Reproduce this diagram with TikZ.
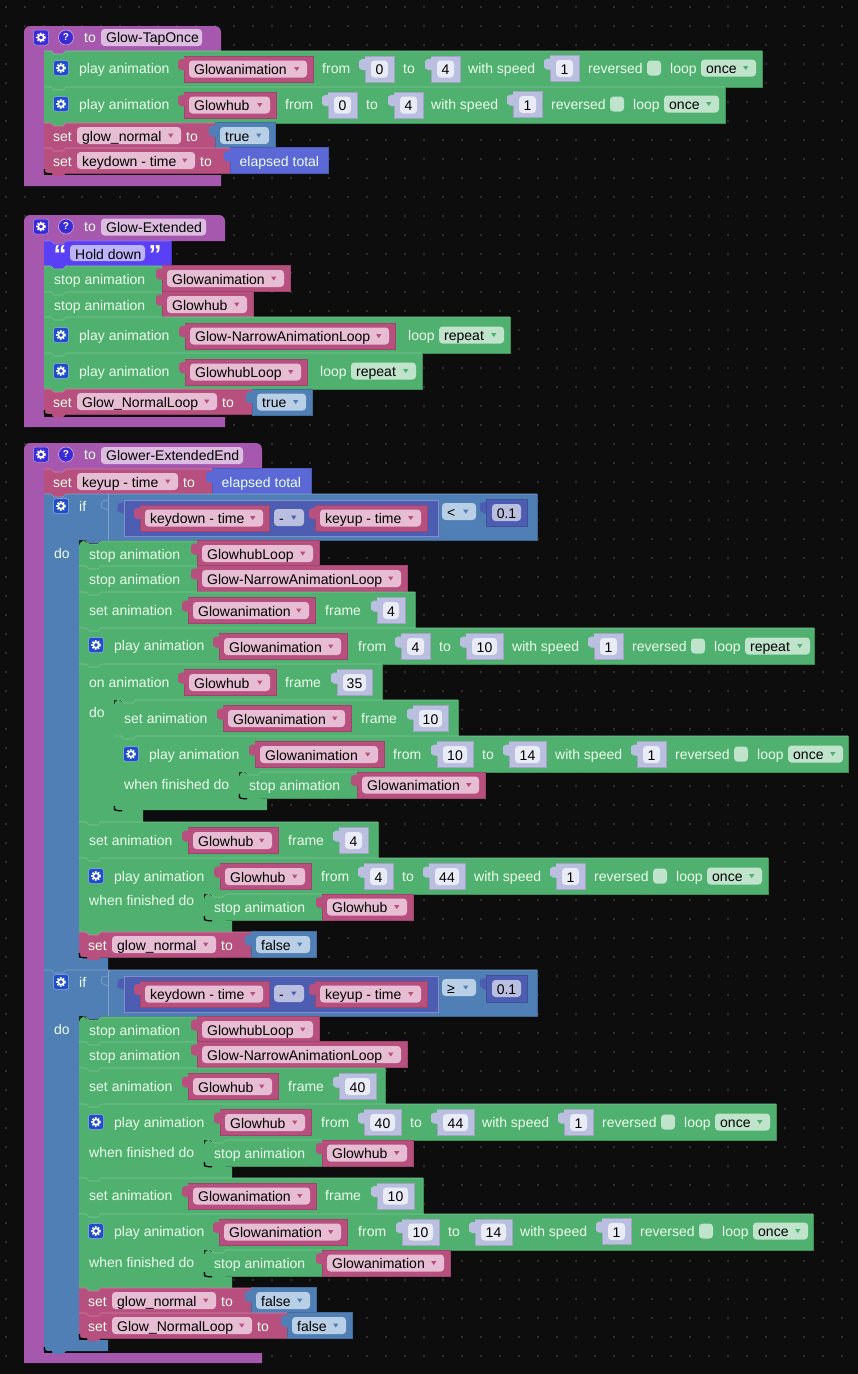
\documentclass[tikz,border=0pt]{standalone}
\usepackage{fontspec}
\setmainfont{Liberation Sans}
\usepackage{xcolor}
\definecolor{bgdark}{HTML}{0D0D0D}
\definecolor{griddot}{HTML}{505050}
\definecolor{blkpurple}{HTML}{A658AF}
\definecolor{blkgreen}{HTML}{4FB06F}
\definecolor{blkmaroon}{HTML}{B8507F}
\definecolor{blksteel}{HTML}{4F7FB5}
\definecolor{blkindigo}{HTML}{4D5DB2}
\definecolor{blkelapsed}{HTML}{5C68D6}
\definecolor{blkquote}{HTML}{5A40F5}
\definecolor{blklav}{HTML}{BABFE0}
\definecolor{fldpink}{HTML}{E6BDD2}
\definecolor{fldgreen}{HTML}{BFE3CB}
\definecolor{fldsteel}{HTML}{B9CFE6}
\definecolor{fldpurple}{HTML}{DCBDE0}
\definecolor{fldquote}{HTML}{BDB3FB}
\definecolor{fldlav}{HTML}{E9EBF6}
\definecolor{icongear}{HTML}{1F4FC8}
\definecolor{icondef}{HTML}{3A2BD6}
\newcounter{txtno}
\tikzset{
  lbltext/.style={font=\fontsize{14}{16}\selectfont, text=white!92!green, inner sep=0pt, anchor=base west},
  fldtext/.style={font=\fontsize{14}{16}\selectfont, text=black, inner sep=0pt, anchor=base west},
  numtext/.style={font=\fontsize{14}{16}\selectfont, text=black, inner sep=0pt, anchor=base},
  roundfld/.style={rounded corners=3.5pt},
}
% label and name fields
\newcommand{\lbl}[3]{\stepcounter{txtno}\node[lbltext] (txt\arabic{txtno}) at (#1,#2+5) {#3};}
\newcommand{\namefld}[4]{\fill[fldpurple,roundfld] (#1,#3-8.5) rectangle (#2,#3+8.5);
  \stepcounter{txtno}\node[fldtext] (txt\arabic{txtno}) at (#1+5,#3+5) {#4};}
\newcommand{\ddfld}[6]{\fill[#4,roundfld] (#1,#3-8.5) rectangle (#2,#3+8.5);
  \stepcounter{txtno}\node[fldtext] (txt\arabic{txtno}) at (#1+5,#3+5.6) {#6};
  \fill[#5] (#2-13,#3-2) -- (#2-7.5,#3-2) -- (#2-10.25,#3+2) -- cycle;}
% value blocks, x centre-y width
\newcommand{\valshape}[4]{\fill[#1] (#2,#3-13) -- (#2+#4,#3-13) -- (#2+#4,#3+13) -- (#2,#3+13) -- (#2,#3+1)
    -- (#2-3,#3+1) -- (#2-6,#3-1) -- (#2-6,#3-8) -- (#2-3,#3-10) -- (#2,#3-10) -- cycle;
  \draw[#1!86!black,line width=.6pt] (#2,#3-13) -- (#2+#4,#3-13) -- (#2+#4,#3+13) -- (#2,#3+13) -- (#2,#3+1);}
\newcommand{\varblk}[4]{\valshape{blkmaroon}{#1}{#2}{#3}\ddfld{#1+5}{#1+#3-6}{#2}{fldpink}{blkmaroon}{#4}}
\newcommand{\numblk}[4]{\valshape{blklav}{#1}{#2}{#3}\fill[fldlav,roundfld] (#1+6,#2-8.5) rectangle (#1+#3-6,#2+8.5);
  \stepcounter{txtno}\node[numtext] (txt\arabic{txtno}) at (#1+#3/2,#2+5.6) {#4};}
\newcommand{\boolblk}[4]{\valshape{blksteel}{#1}{#3}{#2-#1}\ddfld{#1+5}{#2-6}{#3}{fldsteel}{blksteel}{#4}}
\newcommand{\elapsed}[3]{\valshape{blkelapsed}{#1}{#3}{#2-#1}\lbl{#1+9.5}{#3+.6}{elapsed total}}
% statement blocks
\newcommand{\stmt}[6][0]{\fill[#2] [rounded corners=#1pt] (#3,#4+9) -- (#3,#4) -- (#3+7,#4) [sharp corners] -- (#3+10,#4+3) -- (#3+19,#4+3)
    -- (#3+22,#4) -- (#5,#4) -- (#5,#6) -- (#3+22,#6) -- (#3+19,#6+3) -- (#3+10,#6+3) -- (#3+7,#6) -- (#3,#6) -- cycle;
  \draw[#2!72!white,line width=.6pt] (#3+#1/1.4,#4) -- (#3+7,#4) -- (#3+10,#4+3) -- (#3+19,#4+3) -- (#3+22,#4) -- (#5,#4);
  \draw[#2!80!black,line width=.6pt] (#5,#4) -- (#5,#6) -- (#3+22,#6);}
\newcommand{\cblk}[9]{\fill[#1] (#2,#3) -- (#2+7,#3) -- (#2+10,#3+3) -- (#2+19,#3+3) -- (#2+22,#3) -- (#4,#3) -- (#4,#5) -- (#6+22,#5)
    -- (#6+19,#5+3) -- (#6+10,#5+3) -- (#6+7,#5) -- (#6,#5) -- (#6,#7) -- (#8,#7) -- (#8,#9) -- (#2+22,#9)
    -- (#2+19,#9+3) -- (#2+10,#9+3) -- (#2+7,#9) -- (#2,#9) -- cycle;
  \draw[#1!72!white,line width=.6pt] (#2,#3) -- (#2+7,#3) -- (#2+10,#3+3) -- (#2+19,#3+3) -- (#2+22,#3) -- (#4,#3);
  \draw[#1!80!black,line width=.6pt] (#4,#3) -- (#4,#5) -- (#6+22,#5);}
\newcommand{\defblk}[7]{\fill[blkpurple] [rounded corners=6pt] (#1,#7) -- (#1,#2) -- (#3,#2) [sharp corners] -- (#3,#4) -- (#5+22,#4) -- (#5+19,#4+3) -- (#5+10,#4+3)
    -- (#5+7,#4) -- (#5,#4) -- (#5,#6) -- (#3,#6) -- (#3,#7) -- cycle;
  \gearicon{icondef}{#1+17}{#2+11.5}
  \fill[icondef] (#1+42,#2+11.5) circle (7.5);
  \draw[fldpurple,line width=.5pt] (#1+42,#2+11.5) circle (7.5);
  \stepcounter{txtno}\node[font=\fontsize{10}{12}\bfseries\selectfont,text=white,inner sep=0pt] (txt\arabic{txtno}) at (#1+42,#2+11.5) {?};
  \lbl{#1+60}{#2+11.5}{to}}
\newcommand{\gearicon}[3]{\fill[#1,rounded corners=2.5pt] (#2-7.5,#3-7.5) rectangle (#2+7.5,#3+7.5);
  \draw[white!55!#1,line width=.5pt,rounded corners=2.5pt] (#2-7.5,#3-7.5) rectangle (#2+7.5,#3+7.5);
  \draw[white,line width=1.7pt] (#2,#3) circle (2.8);
  \draw[white,line width=1.5pt,dash pattern=on 1.6pt off 1.35pt] (#2,#3) circle (4.1);}
\newcommand{\chk}[2]{\fill[fldgreen,roundfld] (#1,#2-7.5) rectangle (#1+14,#2+7.5);}
\newcommand{\slotend}[2]{\fill[bgdark] (#1-.2,#2-4) .. controls (#1,#2) .. (#1+5,#2+.3) -- (#1-.2,#2+.3) -- cycle;
  \draw[black,line width=1.2pt] (#1+.4,#2-4) .. controls (#1+.4,#2) .. (#1+5,#2+.8) -- (#1+8,#2+.8);}
% pieces of the play rows
\newcommand{\playhead}[2]{\gearicon{icongear}{#1+17}{#2}\lbl{#1+35}{#2}{play animation}}
\newcommand{\speedtail}[4]{\lbl{#1}{#2}{with speed}\numblk{#1+82}{#2+.5}{29}{1}\lbl{#1+120}{#2}{reversed}\chk{#1+179}{#2}
  \lbl{#1+202}{#2}{loop}\ddfld{#1+233}{#1+233+#4}{#2}{fldgreen}{blkgreen}{#3}}
\newcommand{\stoprow}[6]{\stmt{blkgreen}{#1}{#2}{#4}{#3}\lbl{#1+10}{#2+13}{stop animation}\varblk{#4}{#2+12.5}{#5}{#6}}
\newcommand{\whenstop}[4]{\stmt[5]{blkgreen}{#1}{#2}{#1+118}{#2+26}\slotend{#1}{#2+26}\lbl{#1+10}{#2+13}{stop animation}\varblk{#1+118}{#2+13}{#3}{#4}}
\newcommand{\setvar}[6]{\stmt{blkmaroon}{#1}{#2}{#5}{#2+25}\lbl{#1+9}{#2+13}{set}\ddfld{#1+33}{#3}{#2+12.5}{fldpink}{blkmaroon}{#4}\lbl{#3+5}{#2+13}{to}#6}
% the if row with its comparison
\newcommand{\ifhead}[4]{\cblk{blksteel}{44}{#1}{537}{#1+46}{79}{#3}{108}{#4}
  \gearicon{icongear}{61}{#1+12}\lbl{79}{#1+12}{if}
  \draw[blksteel!70!white,line width=.6pt] (108,#1) -- (108,#1+46);
  \draw[blksteel!70!white,line width=.6pt] (108,#1+6) -- (102,#1+7) -- (101,#1+13) -- (108,#1+16);
  \fill[blkindigo] (124,#1+6) rectangle (438,#1+42);
  \fill[blkindigo] (124,#1+8) -- (118,#1+10) -- (117,#1+17) -- (124,#1+20) -- cycle;
  \draw[blkindigo!70!white,line width=.6pt] (124,#1+6) -- (438,#1+6) -- (438,#1+42) -- (124,#1+42) -- cycle;
  \varblk{140}{#1+24}{129}{keydown - time}
  \ddfld{274}{304}{#1+23.5}{blklav}{blkindigo}{-}
  \varblk{315}{#1+24}{112}{keyup - time}
  \ddfld{442}{476}{#1+17.5}{fldsteel}{blksteel}{#2}
  \fill[blkindigo] (486,#1+5) rectangle (527,#1+32);
  \fill[blkindigo] (486,#1+8) -- (480,#1+9) -- (480,#1+17) -- (486,#1+20) -- cycle;
  \draw[blkindigo!86!black,line width=.6pt] (486,#1+5) rectangle (527,#1+32);
  \fill[blklav,roundfld] (492,#1+10) rectangle (521,#1+27);
  \stepcounter{txtno}\node[numtext] (txt\arabic{txtno}) at (506.5,#1+24) {0.1};
  \lbl{54}{#1+59}{do}}

\begin{document}
\begin{tikzpicture}[x=1pt,y=-1pt]
\fill[bgdark] (0,0) rectangle (858,1374);
\useasboundingbox (0,0) rectangle (858,1374);
\foreach \gx in {0,...,44}
  \foreach \gy in {0,...,72}
    \fill[griddot] (6+19*\gx,7+19*\gy) circle (0.8);

% Glow-TapOnce
\defblk{24}{26}{221}{51}{44}{175}{186}
\namefld{101}{202}{37.5}{Glow-TapOnce}
\stmt{blkgreen}{44}{51}{762}{87}
\playhead{44}{68}\varblk{184}{69}{129}{Glowanimation}\lbl{322}{68}{from}\numblk{365}{69}{29}{0}\lbl{403}{68}{to}\numblk{431}{69}{29}{4}
\speedtail{468}{68}{once}{55}
\stmt{blkgreen}{44}{87}{725}{123}
\playhead{44}{104}\varblk{184}{105}{92}{Glowhub}\lbl{285}{104}{from}\numblk{328}{105}{29}{0}\lbl{366}{104}{to}\numblk{394}{105}{29}{4}
\speedtail{431}{104}{once}{55}
\setvar{44}{123}{181}{glow\_normal}{215}{\boolblk{215}{275}{135.5}{true}}
\setvar{44}{148}{195}{keydown - time}{230}{\elapsed{230}{328}{160.5}}
\slotend{44}{173}

% Glow-Extended
\defblk{24}{215}{225}{241}{44}{417}{427}
\namefld{101}{206}{227}{Glow-Extended}
\stmt{blkquote}{44}{241}{171}{266}
\fill[fldquote,roundfld] (70,245) rectangle (145,261);
\node[fldtext] (quotetxt) at (75,259) {Hold down};
\node[font=\fontsize{26}{26}\bfseries\selectfont,text=white,inner sep=0pt,anchor=base] (quoteopen) at (60,263) {“};
\node[font=\fontsize{26}{26}\bfseries\selectfont,text=white,inner sep=0pt,anchor=base] (quoteclose) at (155,263) {”};
\stoprow{44}{266}{292}{162}{128}{Glowanimation}
\stoprow{44}{292}{317}{162}{91}{Glowhub}
\stmt{blkgreen}{44}{317}{510}{353}
\playhead{44}{335}\varblk{185}{336}{210}{Glow-NarrowAnimationLoop}\lbl{408}{335}{loop}\ddfld{439}{504}{335}{fldgreen}{blkgreen}{repeat}
\stmt{blkgreen}{44}{353}{422}{389}
\playhead{44}{371}\varblk{185}{372}{122}{GlowhubLoop}\lbl{320}{371}{loop}\ddfld{351}{416}{371}{fldgreen}{blkgreen}{repeat}
\setvar{44}{389}{217}{Glow\_NormalLoop}{252}{\boolblk{252}{312}{402}{true}}
\slotend{44}{414}

% Glower-ExtendedEnd
\defblk{24}{443}{262}{469}{44}{1353}{1363}
\namefld{101}{243}{455.5}{Glower-ExtendedEnd}
\setvar{44}{469}{178}{keyup - time}{212}{\elapsed{212}{311}{481.5}}

% first if
\ifhead{494}{<}{958}{970}
\stmt[5]{blkgreen}{79}{541}{197}{566}\lbl{89}{554}{stop animation}\varblk{197}{553.5}{122}{GlowhubLoop}
\stoprow{79}{566}{592}{197}{210}{Glow-NarrowAnimationLoop}
\stmt{blkgreen}{79}{592}{415}{628}
\lbl{89}{610}{set animation}\varblk{188}{610.5}{127}{Glowanimation}\lbl{325}{610}{frame}\numblk{377}{610.5}{28}{4}
\stmt{blkgreen}{79}{628}{814}{664}
\playhead{79}{645}\varblk{219}{646.5}{128}{Glowanimation}\lbl{358}{646}{from}\numblk{401}{646.5}{29}{4}\lbl{439}{646}{to}\numblk{466}{646.5}{37}{10}
\speedtail{512}{646}{repeat}{65}
\cblk{blkgreen}{79}{664}{382}{700}{114}{810}{143}{822}
\lbl{89}{682}{on animation}\varblk{184}{682.5}{92}{Glowhub}\lbl{285}{682}{frame}\numblk{337}{682.5}{35}{35}
\lbl{89}{712}{do}
\stmt[5]{blkgreen}{114}{700}{458}{736}
\lbl{124}{718}{set animation}\varblk{223}{718.5}{128}{Glowanimation}\lbl{361}{718}{frame}\numblk{413}{718.5}{35}{10}
\cblk{blkgreen}{114}{736}{848}{772}{239}{797}{267}{810}
\playhead{114}{754}\varblk{255}{754.5}{129}{Glowanimation}\lbl{393}{754}{from}\numblk{437}{754.5}{36}{10}\lbl{482}{754}{to}\numblk{509}{754.5}{37}{14}
\speedtail{555}{754}{once}{55}
\lbl{124}{784}{when finished do}
\whenstop{239}{772}{128}{Glowanimation}
\slotend{114}{810}
\stmt{blkgreen}{79}{822}{378}{858}
\lbl{89}{840}{set animation}\varblk{188}{840.5}{90}{Glowhub}\lbl{288}{840}{frame}\numblk{339}{840.5}{29}{4}
\cblk{blkgreen}{79}{858}{768}{894}{204}{920}{232}{932}
\playhead{79}{876}\varblk{220}{876.5}{91}{Glowhub}\lbl{321}{876}{from}\numblk{364}{876.5}{29}{4}\lbl{402}{876}{to}\numblk{429}{876.5}{36}{44}
\speedtail{474}{876}{once}{55}
\lbl{89}{900}{when finished do}
\whenstop{204}{894}{91}{Glowhub}
\setvar{79}{932}{216}{glow\_normal}{251}{\boolblk{251}{316}{944.5}{false}}
\slotend{79}{957}

% second if
\ifhead{970}{≥}{1340}{1351}
\stmt[5]{blkgreen}{79}{1017}{197}{1042}\lbl{89}{1030}{stop animation}\varblk{197}{1029.5}{122}{GlowhubLoop}
\stoprow{79}{1042}{1068}{197}{210}{Glow-NarrowAnimationLoop}
\stmt{blkgreen}{79}{1068}{385}{1104}
\lbl{89}{1086}{set animation}\varblk{188}{1086.5}{90}{Glowhub}\lbl{288}{1086}{frame}\numblk{339}{1086.5}{37}{40}
\cblk{blkgreen}{79}{1104}{776}{1140}{204}{1166}{232}{1178}
\playhead{79}{1122}\varblk{220}{1122.5}{91}{Glowhub}\lbl{321}{1122}{from}\numblk{364}{1122.5}{37}{40}\lbl{410}{1122}{to}\numblk{437}{1122.5}{37}{44}
\speedtail{482}{1122}{once}{55}
\lbl{89}{1152}{when finished do}
\whenstop{204}{1140}{91}{Glowhub}
\stmt{blkgreen}{79}{1178}{423}{1214}
\lbl{89}{1195}{set animation}\varblk{188}{1196}{128}{Glowanimation}\lbl{325}{1195}{frame}\numblk{377}{1196}{37}{10}
\cblk{blkgreen}{79}{1214}{813}{1250}{204}{1276}{232}{1288}
\playhead{79}{1231}\varblk{219}{1232}{128}{Glowanimation}\lbl{358}{1231}{from}\numblk{402}{1232}{37}{10}\lbl{448}{1231}{to}\numblk{475}{1232}{37}{14}
\speedtail{520}{1231}{once}{55}
\lbl{89}{1262}{when finished do}
\whenstop{204}{1250}{128}{Glowanimation}
\setvar{79}{1288}{216}{glow\_normal}{251}{\boolblk{251}{316}{1300.5}{false}}
\setvar{79}{1313}{252}{Glow\_NormalLoop}{287}{\boolblk{287}{352}{1325.5}{false}}
\slotend{79}{1338}
\slotend{44}{1351}
\end{tikzpicture}
\end{document}
